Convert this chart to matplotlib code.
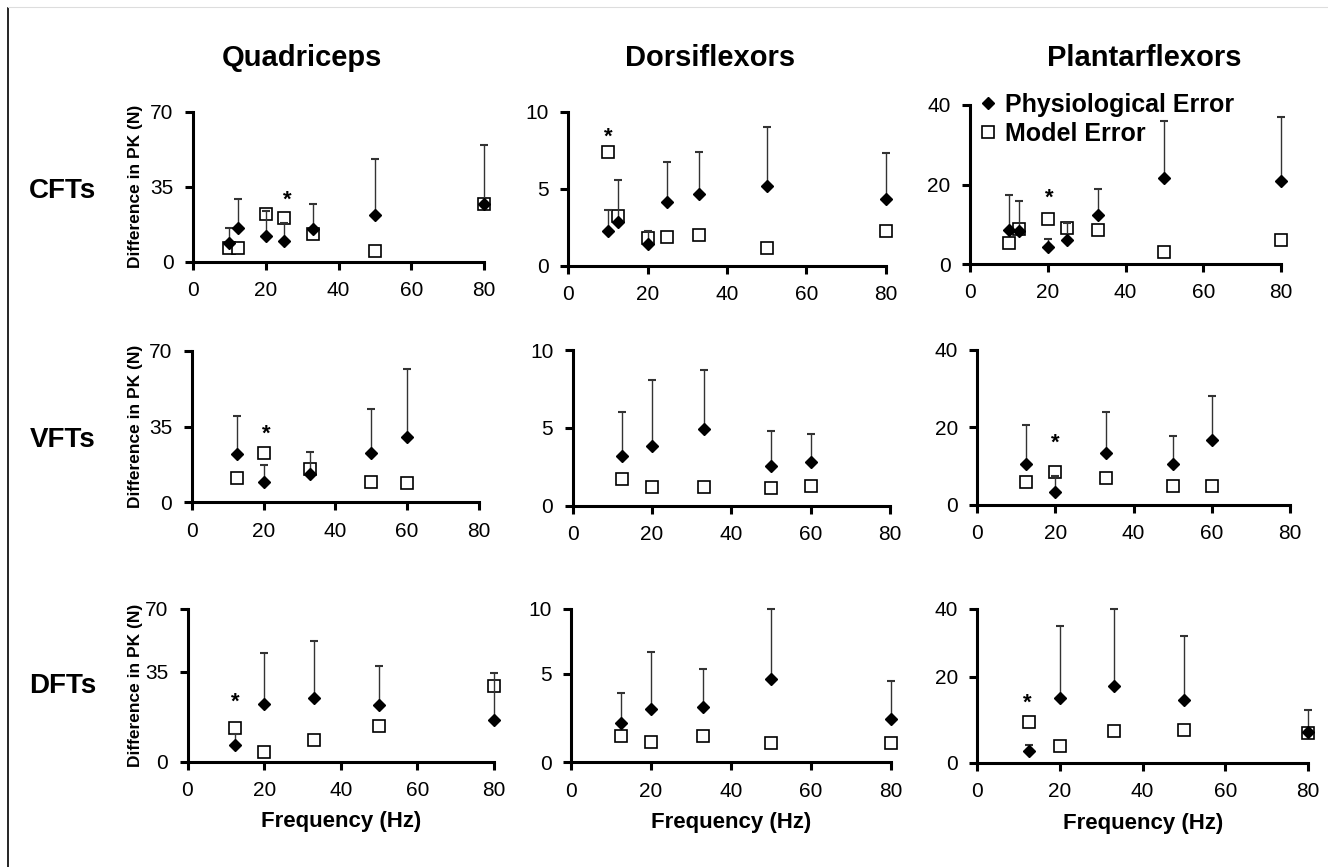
import numpy as np
import matplotlib
matplotlib.use('Agg')
import matplotlib.pyplot as plt
from matplotlib import font_manager
from matplotlib.lines import Line2D

# frequencies (Hz) for each train type
cft_freq = [10, 12.5, 20, 25, 33, 50, 80]
vft_freq = [12.5, 20, 33, 50, 60]
dft_freq = [12.5, 20, 33, 50, 80]

# physiological error (mean), its upper SD, and model error -- Difference in PK (N)
quad_cft_phys = [8.6, 15.6, 12.1, 9.8, 15.1, 21.8, 26.8]
quad_cft_sd = [7.0, 13.5, 11.7, 8.4, 11.8, 26.0, 27.6]
quad_cft_model = [6.5, 6.2, 22.1, 20.2, 12.8, 5.1, 26.8]

dors_cft_phys = [2.27, 2.86, 1.41, 4.11, 4.63, 5.17, 4.33]
dors_cft_sd = [1.33, 2.7, 0.86, 2.64, 2.77, 3.83, 2.96]
dors_cft_model = [7.36, 3.25, 1.82, 1.88, 1.99, 1.13, 2.25]

plan_cft_phys = [8.55, 8.4, 4.4, 6.0, 12.3, 21.7, 21.0]
plan_cft_sd = [8.75, 7.4, 1.8, 4.4, 6.5, 14.3, 16.0]
plan_cft_model = [5.4, 8.7, 11.2, 9.0, 8.55, 3.1, 6.0]

quad_vft_phys = [22.3, 9.2, 13.1, 22.9, 30.3]
quad_vft_sd = [17.5, 8.2, 10.3, 20.2, 31.2]
quad_vft_model = [11.1, 22.6, 15.2, 9.5, 8.8]

dors_vft_phys = [3.21, 3.83, 4.93, 2.57, 2.83]
dors_vft_sd = [2.83, 4.27, 3.77, 2.23, 1.77]
dors_vft_model = [1.69, 1.22, 1.22, 1.11, 1.26]

plan_vft_phys = [10.6, 3.44, 13.3, 10.5, 16.9]
plan_vft_sd = [10.0, 4.13, 10.8, 7.3, 11.3]
plan_vft_model = [5.85, 8.6, 6.9, 4.9, 5.0]

quad_dft_phys = [6.4, 22.6, 24.6, 22.0, 16.3]
quad_dft_sd = [4.5, 22.9, 27.3, 16.4, 18.2]
quad_dft_model = [13.1, 3.8, 8.3, 13.7, 29.3]

dors_dft_phys = [2.21, 3.0, 3.11, 4.7, 2.43]
dors_dft_sd = [1.73, 3.72, 2.29, 5.3, 2.19]
dors_dft_model = [1.49, 1.17, 1.5, 1.11, 1.1]

plan_dft_phys = [2.8, 15.1, 17.9, 14.7, 7.3]
plan_dft_sd = [1.4, 19.9, 22.1, 17.3, 4.9]
plan_dft_model = [9.55, 3.96, 7.46, 7.7, 6.9]

# significance asterisks (freq, height)
quad_cft_star = (26, 31.9)
dors_cft_star = (10, 8.8)
plan_cft_star = (20.4, 18.4)
quad_vft_star = (20.8, 34.6)
plan_vft_star = (20, 17.8)
quad_dft_star = (12.6, 25.9)
plan_dft_star = (12, 15.5)

muscles = ['Quadriceps', 'Dorsiflexors', 'Plantarflexors']
protocols = ['CFTs', 'VFTs', 'DFTs']
y_max = [70, 10, 40]
y_ticks = [[0, 35, 70], [0, 5, 10], [0, 20, 40]]
x_ticks = [0, 20, 40, 60, 80]

panels = [
    [(cft_freq, quad_cft_phys, quad_cft_sd, quad_cft_model, quad_cft_star),
     (cft_freq, dors_cft_phys, dors_cft_sd, dors_cft_model, dors_cft_star),
     (cft_freq, plan_cft_phys, plan_cft_sd, plan_cft_model, plan_cft_star)],
    [(vft_freq, quad_vft_phys, quad_vft_sd, quad_vft_model, quad_vft_star),
     (vft_freq, dors_vft_phys, dors_vft_sd, dors_vft_model, None),
     (vft_freq, plan_vft_phys, plan_vft_sd, plan_vft_model, plan_vft_star)],
    [(dft_freq, quad_dft_phys, quad_dft_sd, quad_dft_model, quad_dft_star),
     (dft_freq, dors_dft_phys, dors_dft_sd, dors_dft_model, None),
     (dft_freq, plan_dft_phys, plan_dft_sd, plan_dft_model, plan_dft_star)],
]

# axes boxes in pixels: left, top, right, bottom
boxes = [
    [(193, 111.7, 484, 261.7), (568.3, 111.7, 885.7, 265.7), (970, 105, 1281, 264)],
    [(191.7, 350.7, 479, 502.3), (572.7, 350, 890, 505.7), (977.3, 350, 1290, 505)],
    [(187.5, 609, 494, 761.5), (571, 609, 891, 762.3), (977.3, 609, 1308, 763)],
]
# the bottom row axes are drawn with the lower half taller than the upper half
bottom_split = [0.589, 0.576, 0.56]

W, H = 1328, 867
plt.rcParams['font.family'] = ['Liberation Sans', 'DejaVu Sans']

names = {f.name for f in font_manager.fontManager.ttflist}
if 'Liberation Sans Narrow' in names:
    ylab_font, ylab_size = 'Liberation Sans Narrow', 15
else:
    ylab_font, ylab_size = 'Liberation Sans', 12.5


def split_scale(top, frac):
    m = top / 2.0

    def fwd(y):
        y = np.asarray(y, float)
        return np.where(y <= m, y * frac / m, frac + (y - m) * (1 - frac) / m)

    def inv(u):
        u = np.asarray(u, float)
        return np.where(u <= frac, u * m / frac, m + (u - frac) * m / (1 - frac))
    return fwd, inv


fig = plt.figure(figsize=(W / 100, H / 100), dpi=100)

for r in range(3):
    for c in range(3):
        l, t, rr, b = boxes[r][c]
        ax = fig.add_axes([l / W, 1 - b / H, (rr - l) / W, (b - t) / H])
        freq, phys, sd, model, star = panels[r][c]

        if r == 2:
            ax.set_yscale('function', functions=split_scale(y_max[c], bottom_split[c]))

        ax.plot(freq, model, 's', ms=8.5, mfc='white', mec='black', mew=1.2,
                zorder=2, clip_on=False)
        ax.errorbar(freq, phys, yerr=[np.zeros(len(sd)), sd], fmt='none',
                    ecolor='#333333', elinewidth=1.0, capsize=3.2, capthick=1.5,
                    zorder=3, clip_on=False)
        ax.plot(freq, phys, 'D', ms=6.3, color='black', zorder=4, clip_on=False)

        if star is not None:
            ax.annotate('*', star, xytext=(0, -5), textcoords='offset points',
                        ha='center', va='center', fontsize=16, fontweight='bold')

        ax.set_xlim(0, 80)
        ax.set_ylim(0, y_max[c])
        ax.set_xticks(x_ticks)
        ax.set_yticks(y_ticks[c])
        ax.set_yticklabels([str(v) for v in y_ticks[c]])
        ax.minorticks_off()
        for s in ['top', 'right']:
            ax.spines[s].set_visible(False)
        for s in ['left', 'bottom']:
            ax.spines[s].set_linewidth(2.2)
        ax.tick_params(direction='out', length=6, width=2.2, labelsize=15, pad=8)

        if c == 0:
            ax.set_ylabel('Difference in PK (N)', fontfamily=ylab_font,
                          fontsize=ylab_size, fontweight='bold')
            ax.yaxis.set_label_coords((143 - l) / (rr - l), 0.5)
        if r == 2:
            ax.set_xlabel('Frequency (Hz)', fontsize=16, fontweight='bold', labelpad=8)
        if r == 0 and c == 2:
            handles = [Line2D([], [], marker='D', ls='none', color='black', ms=6.3),
                       Line2D([], [], marker='s', ls='none', mfc='white', mec='black',
                              mew=1.2, ms=8.5)]
            ax.legend(handles, ['Physiological Error', 'Model Error'], loc='upper left',
                      bbox_to_anchor=(0.025, 1.075), frameon=False,
                      prop={'weight': 'bold', 'size': 18}, handlelength=0.8,
                      handletextpad=0.3, borderpad=0, borderaxespad=0,
                      labelspacing=0.2)

col_x = [302, 710, 1144]
for name, x in zip(muscles, col_x):
    fig.text(x / W, 1 - 58 / H, name, ha='center', va='center',
             fontsize=21, fontweight='bold')

row_y = [191, 440, 686]
for name, y in zip(protocols, row_y):
    fig.text(63 / W, 1 - y / H, name, ha='center', va='center',
             fontsize=20, fontweight='bold')

# page border remnants
fig.add_artist(Line2D([8 / W, 8 / W], [0, 1 - 8 / H], transform=fig.transFigure,
                      color='black', lw=1.2))
fig.add_artist(Line2D([8 / W, 1], [1 - 7 / H, 1 - 7 / H], transform=fig.transFigure,
                      color='#dddddd', lw=0.8))

fig.savefig('out.png', dpi=100)
